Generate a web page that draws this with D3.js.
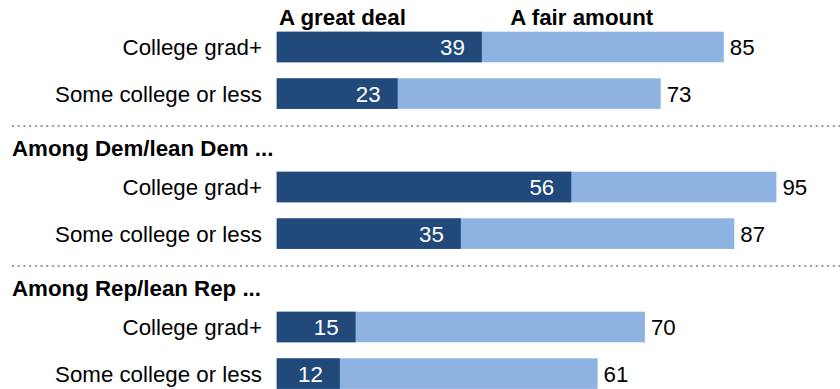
<!DOCTYPE html>
<html>
<head>
<meta charset="utf-8">
<script src="https://cdn.jsdelivr.net/npm/d3@7"></script>
<style>
  html, body { margin: 0; padding: 0; background: #fff; }
  svg { display: block; }
  text { font-family: "Liberation Sans", Arial, sans-serif; }
</style>
</head>
<body>
<svg id="chart" width="840" height="389"></svg>
<script>
// Share who trust scientists "a great deal" / total ("a great deal" + "a fair amount")
const groups = ["All adults", "Among Dem/lean Dem ...", "Among Rep/lean Rep ..."];
const categories = ["College grad+", "Some college or less"];
const greatDeal = [[39, 23], [56, 35], [15, 12]];
const totals = [[85, 73], [95, 87], [70, 61]];
const seriesLabels = ["A great deal", "A fair amount"];

const W = 840, H = 389;
const darkBlue = "#214a7b";
const lightBlue = "#8eb3e2";
const fontSize = "22.3px";

const svg = d3.select("#chart");

const x = d3.scaleLinear().domain([0, 100]).range([276.7, 802.7]);

// each group block is 140px tall; rows within a block via a point scale
const groupY = d3.scalePoint().domain(groups).range([0, 280]);
const rowY = d3.scalePoint().domain(categories).range([47, 93.6]);
const barH = 30.6;

// legend headers
const legendPos = [12.5, 58];
svg.selectAll("text.legend")
  .data(seriesLabels)
  .join("text")
  .attr("class", "legend")
  .attr("x", (d, i) => x(legendPos[i]))
  .attr("y", 25)
  .attr("text-anchor", "middle")
  .attr("font-size", fontSize)
  .attr("font-weight", "bold")
  .attr("fill", "#000")
  .text(d => d);

// dotted separators between groups
svg.selectAll("line.sep")
  .data(groups.slice(1))
  .join("line")
  .attr("class", "sep")
  .attr("x1", 12).attr("x2", W)
  .attr("y1", d => groupY(d) - 14).attr("y2", d => groupY(d) - 14)
  .attr("stroke", "#9a9a9a")
  .attr("stroke-width", 2)
  .attr("stroke-dasharray", "2,3.7");

// group headers
svg.selectAll("text.ghead")
  .data(groups.slice(1))
  .join("text")
  .attr("class", "ghead")
  .attr("x", 12)
  .attr("y", d => groupY(d) + 16)
  .attr("font-size", fontSize)
  .attr("font-weight", "bold")
  .attr("fill", "#000")
  .text(d => d);

const rows = [];
groups.forEach((g, gi) => {
  categories.forEach((c, ci) => {
    rows.push({ group: g, cat: c, great: greatDeal[gi][ci], total: totals[gi][ci] });
  });
});
const cy = d => groupY(d.group) + rowY(d.cat);

const row = svg.selectAll("g.row")
  .data(rows)
  .join("g")
  .attr("class", "row");

// light segment: total ("a great deal" + "a fair amount")
row.append("rect")
  .attr("x", x(0))
  .attr("y", d => cy(d) - barH / 2)
  .attr("width", d => x(d.total) - x(0))
  .attr("height", barH)
  .attr("fill", lightBlue);

// dark segment: "a great deal"
row.append("rect")
  .attr("x", x(0))
  .attr("y", d => cy(d) - barH / 2)
  .attr("width", d => x(d.great) - x(0))
  .attr("height", barH)
  .attr("fill", darkBlue);

// category labels
row.append("text")
  .attr("x", 262)
  .attr("y", cy)
  .attr("dy", "0.36em")
  .attr("text-anchor", "end")
  .attr("font-size", fontSize)
  .attr("fill", "#000")
  .text(d => d.cat);

// values inside the dark segment
row.append("text")
  .attr("x", d => x(d.great) - 17)
  .attr("y", cy)
  .attr("dy", "0.36em")
  .attr("text-anchor", "end")
  .attr("font-size", fontSize)
  .attr("fill", "#fff")
  .text(d => d.great);

// totals after the bar
row.append("text")
  .attr("x", d => x(d.total) + 6)
  .attr("y", cy)
  .attr("dy", "0.36em")
  .attr("font-size", fontSize)
  .attr("fill", "#000")
  .text(d => d.total);
</script>
</body>
</html>
